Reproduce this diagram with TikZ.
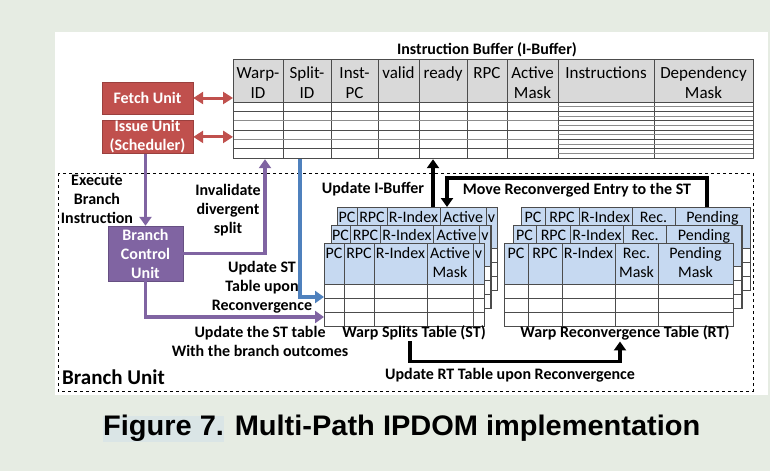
\documentclass[tikz,border=0pt]{standalone}
\usepackage{fontspec}
\setmainfont{Carlito}
\newfontfamily\captionfont{Liberation Sans}
\usepackage{graphicx}
\usetikzlibrary{positioning, arrows.meta}

\definecolor{pagebg}{HTML}{E6ECE3}
\definecolor{unitred}{HTML}{C0504D}
\definecolor{unitpurple}{HTML}{8064A2}
\definecolor{linkblue}{HTML}{4F81BD}
\definecolor{headblue}{HTML}{C6D9F1}
\definecolor{headgray}{HTML}{D9D9D9}
\definecolor{capmark}{HTML}{DAE5E6}

\begin{document}
\begin{tikzpicture}[
            x=1pt, y=-1pt,
            % --- Styles for the nodes ---
            unitbox/.style={
                draw=#1!80!black, fill=#1, text=white, align=center, inner sep=0pt,
                font=\fontsize{16}{19}\selectfont\bfseries
            },
            lbl/.style={font=\fontsize{16}{19}\selectfont\bfseries, align=center, inner sep=1pt},
            cell/.style={font=\fontsize{17}{20}\selectfont, anchor=base, inner sep=0pt},
            stcell/.style={cell, font=\fontsize{16}{19}\selectfont},
            rowline/.style={draw=black!70, line width=0.8pt},
            thinrow/.style={draw=black!45, line width=0.6pt},
            tblframe/.style={draw=black!70, line width=1.2pt, inner sep=0pt, anchor=north west},
            % --- Styles for the connectors ---
            redlink/.style={unitred, line width=3pt, {Triangle[length=10pt,width=12pt]}-{Triangle[length=10pt,width=12pt]}},
            purplelink/.style={unitpurple, line width=3.5pt, -{Triangle[length=9pt,width=12pt]}},
            bluelink/.style={linkblue, line width=3.5pt, -{Triangle[length=9pt,width=12pt]}},
            blacklink/.style={black, line width=3.5pt, -{Triangle[length=9pt,width=12pt]}}
        ]

        % --- Page and panel ---
        \fill[pagebg] (0,0) rectangle (770,471);
        \useasboundingbox (0,0) rectangle (770,471);
        \fill[white] (55,32) rectangle (768,395);
        \draw[dashed, line width=0.7pt] (58,173) rectangle (753,391);

        % --- Instruction Buffer (I-Buffer) ---
        \node[lbl] (ibtitle) at (487,50) {Instruction Buffer (I-Buffer)};
        \fill[headgray] (233,59) rectangle (753,102);
        \foreach \xa/\xb/\top/\bot in {233/283/Warp-/ID, 283/331/Split-/ID, 331/378/Inst-/PC,
                                       378/419/valid/{}, 419/467/ready/{}, 467/507/RPC/{}, 507/558/Active/Mask,
                                       558/654/Instructions/{}, 654/753/Dependency/Mask} {
            \draw[rowline] (\xb,59) -- (\xb,158);
            \node[cell] at ({(\xa+\xb)/2},78) {\top};
            \node[cell] at ({(\xa+\xb)/2},98) {\bot};
        }
        \draw[rowline] (233,102) -- (753,102);
        \foreach \r in {1,...,5} {
            \ifodd\r
                \draw[rowline] (233,{102+\r*56/6}) -- (558,{102+\r*56/6});
            \else
                \draw[thinrow] (233,{102+\r*56/6}) -- (558,{102+\r*56/6});
            \fi
        }
        \foreach \r in {1,...,11} {
            \ifodd\r
                \draw[thinrow] (558,{102+\r*56/12}) -- (753,{102+\r*56/12});
            \else
                \draw[rowline] (558,{102+\r*56/12}) -- (753,{102+\r*56/12});
            \fi
        }
        \node[tblframe, minimum width=520, minimum height=99] (ibuf) at (233,59) {};

        % --- Fetch and issue units ---
        \node[unitbox=unitred, minimum width=91, minimum height=32] (fetch) at (147.5,98) {Fetch Unit};
        \node[unitbox=unitred, minimum width=91, minimum height=33, below=6pt of fetch] (issue) {Issue Unit\\(Scheduler)};
        \draw[redlink] (fetch.east) -- (fetch.east -| ibuf.west);
        \draw[redlink] (issue.east) -- (issue.east -| ibuf.west);

        % --- Branch control unit ---
        \node[unitbox=unitpurple, minimum width=75, minimum height=55] (bcu) at (145.5,253.5) {Branch\\Control\\Unit};
        \node[lbl] (exec) at (97,199) {Execute\\Branch\\Instruction};
        \draw[purplelink] (bcu.north |- issue.south) -- (bcu.north);

        % --- Warp Splits Table (ST), three stacked copies ---
        \foreach \k in {2,1,0} {
            \begin{scope}[shift={(324+6.5*\k, 243-18*\k)}]
                \fill[white] (0,0) rectangle (160,83);
                \fill[headblue] (0,0) rectangle (160,41);
                \foreach \xa/\xb/\top/\bot in {0/20/PC/{}, 20/50/RPC/{}, 50/103/R-Index/{}, 103/149/Active/Mask, 149/160/v/{}} {
                    \draw[rowline] (\xb,0) -- (\xb,83);
                    \node[stcell] at ({(\xa+\xb)/2},15.5) {\top};
                    \ifnum\k=0
                        \node[stcell] at ({(\xa+\xb)/2},34.5) {\bot};
                    \fi
                }
                \foreach \yy in {41,55,69} \draw[rowline] (0,\yy) -- (160,\yy);
                \node[tblframe, minimum width=160, minimum height=83] (st\k) at (0,0) {};
            \end{scope}
        }
        \node[lbl] (stname) at (414,333) {Warp Splits Table (ST)};

        % --- Warp Reconvergence Table (RT), three stacked copies ---
        \foreach \k in {2,1,0} {
            \begin{scope}[shift={(504+8.5*\k, 243-18*\k)}]
                \fill[white] (0,0) rectangle (229,83);
                \fill[headblue] (0,0) rectangle (229,41);
                \foreach \xa/\xb/\top/\bot in {0/24/PC/{}, 24/58/RPC/{}, 58/111/R-Index/{}, 111/154/Rec./Mask, 154/229/Pending/Mask} {
                    \draw[rowline] (\xb,0) -- (\xb,83);
                    \node[stcell] at ({(\xa+\xb)/2},15.5) {\top};
                    \ifnum\k=0
                        \node[stcell] at ({(\xa+\xb)/2},34.5) {\bot};
                    \fi
                }
                \foreach \yy in {41,55,69} \draw[rowline] (0,\yy) -- (229,\yy);
                \node[tblframe, minimum width=229, minimum height=83] (rt\k) at (0,0) {};
            \end{scope}
        }
        \node[lbl] (rtname) at (625,333) {Warp Reconvergence Table (RT)};

        % --- Branch unit connectors ---
        \node[lbl] (inval) at (228,210) {Invalidate\\divergent\\split};
        \draw[purplelink] (bcu.east) -| (ibuf.south -| 265,0);
        \node[lbl] (updst) at (262,287) {Update ST\\Table upon\\Reconvergence};
        \draw[bluelink] (ibuf.south -| 300,0) |- (st0.west |- 0,297);
        \node[lbl] (updout) at (260,341) {Update the ST table\\With the branch outcomes};
        \draw[purplelink] (bcu.south) |- (st0.west |- 0,317);

        % --- Table-to-table connectors ---
        \node[lbl] (updib) at (373,189) {Update I-Buffer};
        \draw[blacklink] (st2.north -| 433,0) -- (ibuf.south -| 433,0);
        \node[lbl] (movest) at (577,190) {Move Reconverged Entry to the ST};
        \draw[blacklink] (rt2.north -| 707,0) -- ++(0,-29) -| (st2.north -| 447,0);
        \node[lbl] (updrt) at (510,375) {Update RT Table upon Reconvergence};
        \draw[blacklink] (stname.south -| 410,0) -- ++(0,20) -| (rtname.south -| 620,0);

        \node[lbl, anchor=west, font=\fontsize{21}{24}\selectfont\bfseries] (bunit) at (61,377) {Branch Unit};

        % --- Caption ---
        \fill[capmark] (103,416) rectangle (224,442);
        \node[anchor=base west, inner sep=0pt] (caption) at (103,435)
            {\resizebox{597pt}{20.5pt}{\captionfont\bfseries Figure 7. Multi-Path IPDOM implementation}};

        \end{tikzpicture}
\end{document}
